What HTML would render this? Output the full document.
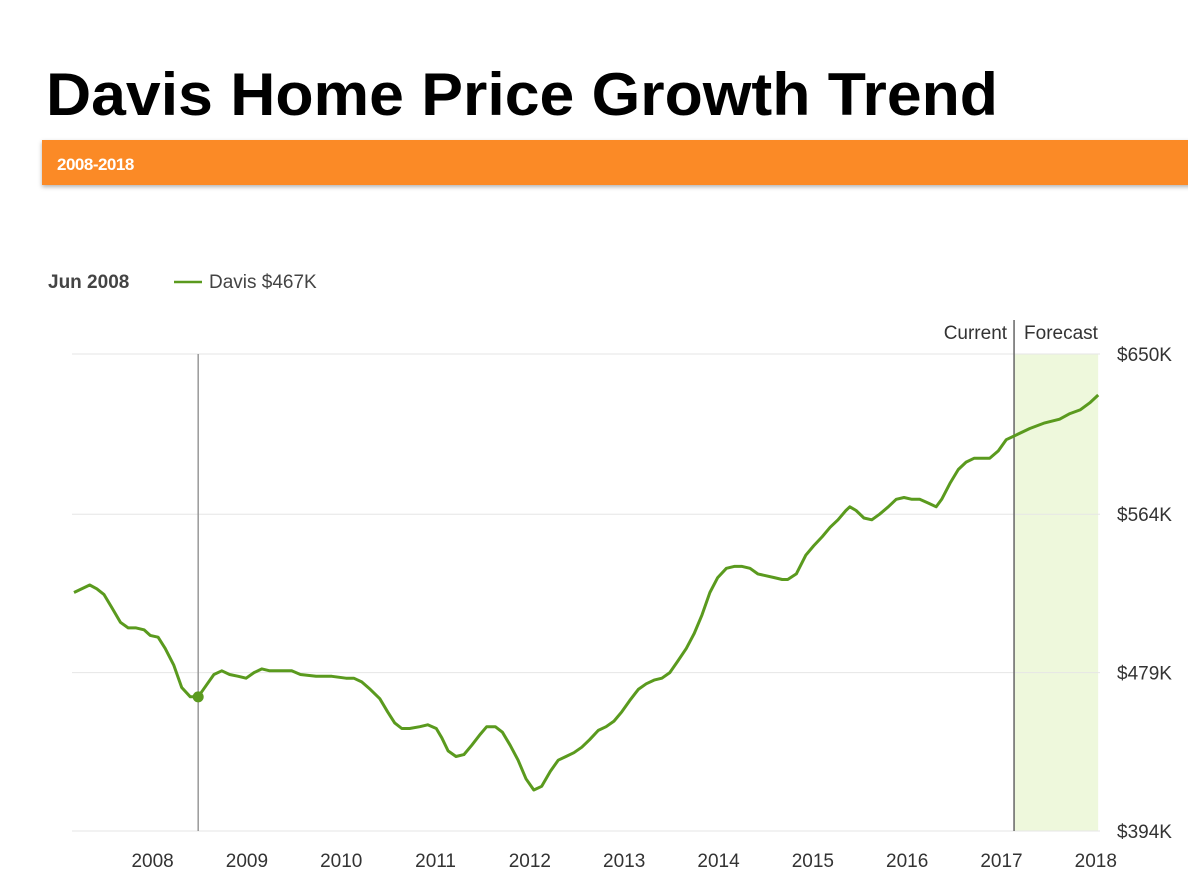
<!DOCTYPE html>
<html><head><meta charset="utf-8"><style>
body{margin:0;background:#fff;}
svg{display:block;font-family:"Liberation Sans",sans-serif;}
</style></head><body>
<svg id="c" width="1188" height="876" viewBox="0 0 1188 876">
<defs><filter id="sh" x="-5%" y="-20%" width="110%" height="160%"><feDropShadow dx="0" dy="2" stdDeviation="2" flood-color="#000" flood-opacity="0.3"/></filter></defs>
<text x="46" y="115" font-size="60" font-weight="bold" fill="#000" textLength="952" lengthAdjust="spacingAndGlyphs">Davis Home Price Growth Trend</text>
<rect x="42" y="140" width="1150" height="45" fill="#fb8a25" filter="url(#sh)"/>
<text x="57" y="170" font-size="17" font-weight="bold" fill="#fff" letter-spacing="-0.5">2008-2018</text>
<text x="48" y="288" font-size="19" font-weight="bold" fill="#444">Jun 2008</text>
<line x1="174" y1="282" x2="202" y2="282" stroke="#5a9a1e" stroke-width="2.5"/>
<text x="209" y="288" font-size="19" fill="#444">Davis $467K</text>
<g id="plot"></g>
</svg>
<script>
const months=[0,2,2.9,3.8,4.8,5.9,6.9,7.9,8.9,9.7,10.7,11.6,12.7,13.7,14.8,15.8,16.8,17.8,18.8,19.8,20.9,21.9,22.9,23.9,24.9,26.2,27.7,28.8,30.8,32.8,34.6,35.6,36.6,37.7,38.9,39.9,40.8,41.7,42.7,44,45,46.1,46.8,47.6,48.6,49.6,50.6,51.7,52.5,53.6,54.5,55.5,56.5,57.5,58.5,59.5,60.6,61.6,62.6,63.6,64.6,65.6,66.7,67.7,68.7,69.7,70.7,71.8,72.8,73.8,74.8,75.8,76.8,77.9,78.9,79.9,80.9,81.9,83,84,85,86,87,88,89.1,90.1,90.8,91.9,93.1,94.1,95.2,96.2,97.2,98.2,98.7,99.5,100.5,101.5,102.5,103.6,104.6,105.6,106.6,107.6,108.7,109.7,110.4,111.5,112.5,113.5,114.5,115.5,116.5,117.6,118.6,119.6,121.6,123.5,125.4,126.7,128,129.3,130.3];
const prices=[522,526,524,521,514,506,503,503,502,499,498,492,483,471,466,466,472,478,480,478,477,476,479,481,480,480,480,478,477,477,476,476,474,470,465,458,452,449,449,450,451,449,444,437,434,435,440,446,450,450,447,440,432,422,416,418,426,432,434,436,439,443,448,450,453,458,464,470,473,475,476,479,485,492,500,510,522,530,535,536,536,535,532,531,530,529,529,532,542,547,552,557,561,566,568,566,562,561,564,568,572,573,572,572,570,568,572,581,588,592,594,594,594,598,604,606,610,613,615,618,620,624,628];
const yTicks=[394,479,564,650];
const yTickLabels=["$394K","$479K","$564K","$650K"];
const xTickYears=[2008,2009,2010,2011,2012,2013,2014,2015,2016,2017,2018];
const currentMonth=119.6;
const hoverMonth=15.8;
const hoverPrice=466;

const NS="http://www.w3.org/2000/svg";
const plot=document.getElementById('plot');
const X=m=>74+m*7.86;
const Y=v=>831-(v-394)*(477/256);
const yearToMonth=y=>(y-2007)*12-2;
function mk(t,a){const e=document.createElementNS(NS,t);for(const k in a)e.setAttribute(k,a[k]);plot.appendChild(e);return e;}

const fc=mk('rect',{x:X(currentMonth),y:Y(650),width:X(months[months.length-1])-X(currentMonth),height:Y(394)-Y(650),fill:'#eef8dc'});


yTicks.forEach((v,i)=>{
  const g=mk('line',{x1:72,x2:1100,y1:Y(v),y2:Y(v),stroke:'#e6e6e6','stroke-width':1});
  
  
  const t=mk('text',{x:1117,y:Y(v)+7,'font-size':19,fill:'#333'});
  t.textContent=yTickLabels[i];
  
  
});
xTickYears.forEach(y=>{
  const t=mk('text',{x:X(yearToMonth(y)),y:867,'font-size':19,fill:'#333','text-anchor':'middle'});
  t.textContent=y;
  
  
});
const cl=mk('line',{x1:X(currentMonth),x2:X(currentMonth),y1:320,y2:Y(394),stroke:'#666','stroke-width':1.5});


const ct=mk('text',{x:X(currentMonth)-7,y:339,'font-size':19,fill:'#333','text-anchor':'end'});
ct.textContent='Current';


const ft=mk('text',{x:X(currentMonth)+10,y:339,'font-size':19,fill:'#333'});
ft.textContent='Forecast';


const hl=mk('line',{x1:X(hoverMonth),x2:X(hoverMonth),y1:Y(650),y2:Y(394),stroke:'#999','stroke-width':1.5});


const d=months.map((m,i)=>(i?'L':'M')+X(m).toFixed(1)+' '+Y(prices[i]).toFixed(1)).join(' ');
const ln=mk('path',{d:d,fill:'none',stroke:'#5a9a1e','stroke-width':3,'stroke-linejoin':'round'});


const dot=mk('circle',{cx:X(hoverMonth),cy:Y(hoverPrice),r:5.5,fill:'#5a9a1e'});


</script>
</body></html>
